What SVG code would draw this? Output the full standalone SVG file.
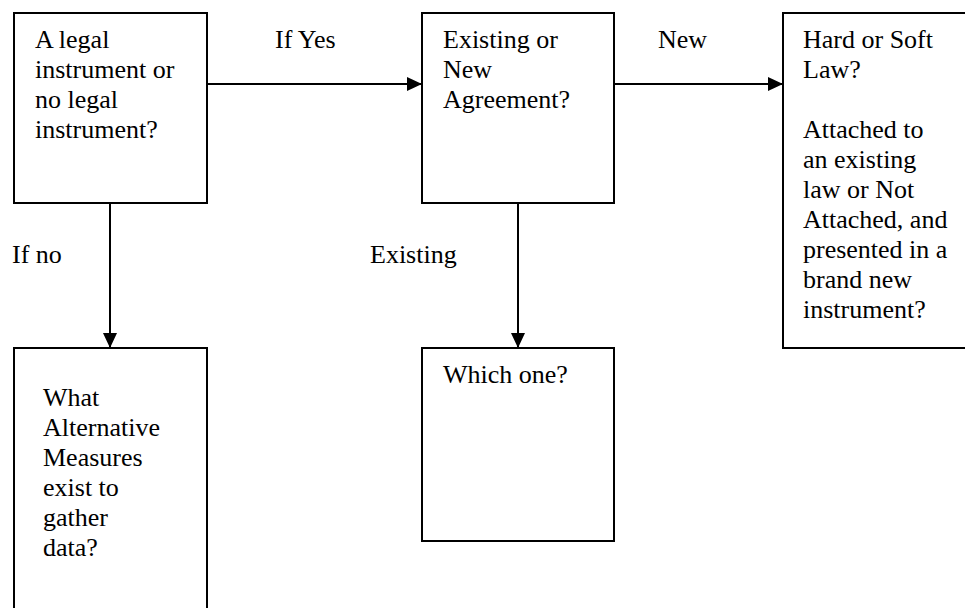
<svg xmlns="http://www.w3.org/2000/svg" width="965" height="608" viewBox="0 0 965 608">
<style>
.box{fill:#fff;stroke:#000;stroke-width:2}
.t{font-family:"Liberation Serif","Times New Roman",serif;font-size:26px;fill:#000}
.c{stroke:#000;stroke-width:2;fill:none}
</style>
<defs>
<marker id="ah" markerWidth="15" markerHeight="14" refX="15" refY="7" orient="auto" markerUnits="userSpaceOnUse">
<path d="M0,0 L15,7 L0,14 Z" fill="#000"/>
</marker>
</defs>
<rect width="965" height="608" fill="#fff"/>
<g id="connectors">
<line class="c" x1="207" y1="84" x2="422" y2="84" marker-end="url(#ah)"/>
<line class="c" x1="614" y1="84" x2="783" y2="84" marker-end="url(#ah)"/>
<line class="c" x1="110" y1="203" x2="110" y2="348" marker-end="url(#ah)"/>
<line class="c" x1="518" y1="203" x2="518" y2="348" marker-end="url(#ah)"/>
<text class="t" x="275" y="48">If Yes</text>
<text class="t" x="658" y="48">New</text>
<text class="t" x="12" y="263">If no</text>
<text class="t" x="370" y="263">Existing</text>
</g>
<g id="n1">
<rect class="box" x="14" y="13" width="193" height="190"/>
<text class="t" x="35" y="48">A legal</text>
<text class="t" x="35" y="78">instrument or</text>
<text class="t" x="35" y="108">no legal</text>
<text class="t" x="35" y="138">instrument?</text>
</g>
<g id="n2">
<rect class="box" x="422" y="13" width="192" height="190"/>
<text class="t" x="443" y="48">Existing or</text>
<text class="t" x="443" y="78">New</text>
<text class="t" x="443" y="108">Agreement?</text>
</g>
<g id="n3">
<rect class="box" x="783" y="13" width="192" height="335"/>
<text class="t" x="803" y="48">Hard or Soft</text>
<text class="t" x="803" y="78">Law?</text>
<text class="t" x="803" y="138">Attached to</text>
<text class="t" x="803" y="168">an existing</text>
<text class="t" x="803" y="198">law or Not</text>
<text class="t" x="803" y="228">Attached, and</text>
<text class="t" x="803" y="258">presented in a</text>
<text class="t" x="803" y="288">brand new</text>
<text class="t" x="803" y="318">instrument?</text>
</g>
<g id="n4">
<rect class="box" x="14" y="348" width="193" height="280"/>
<text class="t" x="43" y="406">What</text>
<text class="t" x="43" y="436">Alternative</text>
<text class="t" x="43" y="466">Measures</text>
<text class="t" x="43" y="496">exist to</text>
<text class="t" x="43" y="526">gather</text>
<text class="t" x="43" y="556">data?</text>
</g>
<g id="n5">
<rect class="box" x="422" y="348" width="192" height="193"/>
<text class="t" x="443" y="383">Which one?</text>
</g>
</svg>
